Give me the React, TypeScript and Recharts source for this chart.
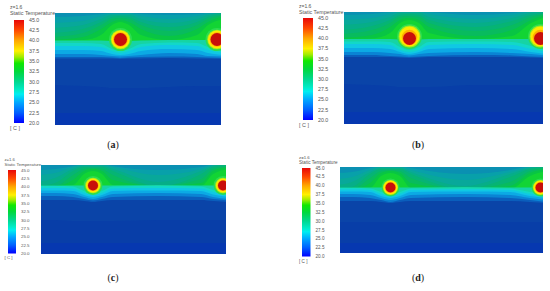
import React from 'react';
import { ComposedChart, Area, Scatter, XAxis, YAxis } from 'recharts';

// Temperature scale
const scaleTicks = [20, 22.5, 25, 27.5, 30, 32.5, 35, 37.5, 40, 42.5, 45];
const scaleEnds = [{ x: 0, top: 45 }, { x: 1, top: 45 }];
const scaleStops: [number, string][] = [
  [20, '#0000ff'], [22.5, '#0060ff'], [25, '#00a8ff'], [27, '#00eef0'], [28, '#00ecc8'], [30, '#00d890'],
  [32.5, '#00d83c'], [34.5, '#10e800'], [36, '#a0ec00'], [37.5, '#fff000'], [40, '#ffa800'], [42.5, '#ff4800'], [45, '#e80808'],
];

// Bands of the field, painted from top to bottom
const bandColors = [
  '#0a90b2', '#08a0aa', '#08a89a', '#06ae88', '#06b474', '#08bb5e', '#08c544', '#12d434',
  '#16d4a4', '#12d8c8', '#10c8e4', '#0caae4', '#0a84d4', '#0a5ebc', '#0a44a8', '#083ea8', '#0638b0',
];
const ringColors = ['#2cdc50', '#a0ec1c', '#ffe800', '#ffb000', '#c80e0a'];

// Depth of each band's upper edge along the section
const xsA = [-3, 28, 46, 57, 65, 74, 86, 114, 142, 153, 169];
const bandsA = [
  [-3, -3, -3, -3, -3, -3, -3, -3, -3, -3, -3],
  [4, 3, 1, 0, 0, 0, 1, 2, 1, 0, 0],
  [10, 8, 3, 1, 1, 1, 3, 6, 3, 1, 0],
  [15, 12, 6, 2, 2, 2, 6, 10, 6, 2, 0],
  [20, 16, 9, 4, 3, 4, 9, 14, 9, 4, 1],
  [24, 20, 12, 6, 5, 6, 12, 18, 12, 6, 2],
  [27, 24, 16, 9, 7, 9, 16, 23, 16, 9, 3],
  [27.5, 27, 22, 12, 9, 12, 22, 27, 22, 12, 6],
  [27.5, 27.5, 27.5, 28, 28, 28, 27.5, 27, 27, 27, 27],
  [30, 30, 31, 36, 38, 36, 31, 29.5, 30, 34, 37],
  [33, 33, 34, 38, 40, 38, 34, 32, 33, 37, 40],
  [37, 37, 38, 41, 42, 41, 38, 36, 37, 40, 42],
  [41, 41, 42, 43, 43.5, 43, 42, 40, 41, 43, 43.5],
  [44, 44, 44, 44.5, 45, 44.5, 44, 43.5, 44, 44.5, 45],
  [45.5, 45.5, 45.5, 45.5, 46, 45.5, 45.5, 45, 45.5, 45.5, 46],
  [72, 73, 74, 75, 75, 75, 75, 74, 73, 73, 73],
  [100, 100, 100, 100, 100, 100, 100, 100, 100, 100, 100],
];
const ringsA = [
  { x: 65.5, y: 26.5, r: [11.5, 9.8, 9, 7.3, 6.5] },
  { x: 162, y: 26.5, r: [11.5, 9.8, 9, 7.3, 6.5] },
];

const xsB = [-3, 28, 46, 56, 65, 75, 85, 131, 168, 187, 202];
const bandsB = [
  [-3, -3, -3, -3, -3, -3, -3, -3, -3, -3, -3],
  [3, 2, 0, -1, -1, -1, 0, 3, 1, -1, -1],
  [8, 6, 2, 0, 0, 0, 2, 7, 3, 0, 0],
  [13, 10, 5, 1, 1, 1, 5, 11, 6, 1, 0],
  [18, 14, 8, 3, 2, 3, 8, 15, 9, 3, 1],
  [22, 18, 11, 5, 4, 5, 11, 19, 13, 5, 2],
  [26, 23, 15, 8, 6, 8, 15, 24, 18, 8, 3],
  [27, 26.5, 21, 11, 8, 11, 21, 27, 24, 11, 5],
  [27, 27, 27, 27.5, 28, 27.5, 27, 27, 27, 27, 27],
  [29.5, 29.5, 30, 35, 38, 35, 30, 29.5, 30, 34, 37],
  [32, 32, 33, 38, 40, 38, 33, 32, 33, 37, 40],
  [36, 36, 37, 40, 42, 40, 37, 36, 37, 40, 42],
  [40, 40, 41, 42, 43.5, 42, 41, 40, 41, 42, 43.5],
  [43, 43, 44, 44.5, 45, 44.5, 44, 43, 43.5, 44.5, 45],
  [45, 45, 45, 45.5, 46, 45.5, 45, 45, 45, 45.5, 46],
  [72, 73, 74, 75, 75, 75, 75, 73, 73, 73, 73],
  [100, 100, 100, 100, 100, 100, 100, 100, 100, 100, 100],
];
const ringsB = [
  { x: 65.5, y: 24.5, r: [12.5, 11, 10, 7.8, 6.5], lift: [0, 0, 0, 1, 2] },
  { x: 196.5, y: 24.5, r: [12.5, 11, 10, 7.8, 6.5], lift: [0, 0, 0, 1, 2] },
];

const xsC = [-3, 14, 32, 43, 52, 61, 72, 117, 160, 172, 188];
const bandsC = [
  [-3, -3, -3, -3, -3, -3, -3, -3, -3, -3, -3],
  [5, 4, 1, -1, -1, -1, 1, 5, 2, -1, -3],
  [10, 8, 2, 0, 0, 0, 2, 10, 4, 0, -3],
  [17, 13, 4, 1, 1, 1, 4, 17, 6, 1, -1],
  [21, 18, 6, 2, 2, 2, 6, 21, 9, 2, 0],
  [21, 21, 10, 4, 3, 4, 10, 21, 14, 4, 1],
  [21, 21, 15, 6, 4, 6, 15, 21, 18, 6, 2],
  [21, 21, 20, 9, 6, 9, 20, 21, 21, 9, 4],
  [20.5, 20.5, 20.5, 20.5, 20.5, 20.5, 20.5, 20, 20.5, 20.5, 20.5],
  [21, 21, 21.5, 26, 28, 26, 21.5, 21, 21.5, 25, 28],
  [23, 23, 23.5, 28, 30, 28, 23.5, 23, 23.5, 27, 30],
  [25.5, 25.5, 26, 30, 32, 30, 26, 25.5, 26, 29.5, 32],
  [28, 28, 29, 32, 34, 32, 29, 28, 29, 32, 34],
  [31, 31, 32, 34, 35.5, 34, 32, 31, 32, 34, 35.5],
  [35, 35, 35, 36, 37, 36, 35, 35, 35, 36, 37],
  [55, 55, 56, 56, 56, 56, 56, 55, 55, 55, 55],
  [78, 78, 78, 78, 78, 78, 78, 78, 78, 78, 78],
];
const ringsC = [
  { x: 52, y: 20.5, r: [9.5, 7.8, 7, 5.6, 5] },
  { x: 182, y: 20.5, r: [9.5, 7.8, 7, 5.6, 5] },
];

const xsD = [-3, 12, 30, 41, 50.5, 60, 71, 125, 170, 190, 206];
const bandsD = [
  [-3, -3, -3, -3, -3, -3, -3, -3, -3, -3, -3],
  [6, 5, 1, -1, -1, -1, 1, 7, 3, -1, -3],
  [12, 10, 3, 0, 0, 0, 3, 13, 5, 0, -3],
  [18, 15, 5, 1, 1, 1, 5, 19, 7, 1, -1],
  [22, 20, 7, 2, 2, 2, 7, 22, 10, 2, 0],
  [22, 22, 11, 4, 3, 4, 11, 22, 15, 4, 1],
  [22, 22, 16, 6, 4, 6, 16, 22, 19, 6, 2],
  [22, 22, 21, 9, 6, 9, 21, 22, 22, 9, 4],
  [20.5, 20.5, 20.5, 20.5, 20.5, 20.5, 20.5, 20, 20.5, 20.5, 20.5],
  [21, 21, 21.5, 25, 27, 25, 21.5, 21.5, 21.5, 25, 27],
  [22.5, 22.5, 23, 27, 29, 27, 23, 22.5, 23, 27, 29],
  [24.5, 24.5, 25, 29, 31, 29, 25, 24.5, 25, 29, 31],
  [27, 27, 28, 31, 33, 31, 28, 27, 28, 31, 33],
  [30, 30, 31, 33, 35, 33, 31, 30, 31, 33, 35],
  [34, 34, 34, 35, 36, 35, 34, 34, 34, 35, 36],
  [55, 55, 55, 55, 55, 55, 55, 55, 55, 55, 55],
  [76, 76, 76, 76, 76, 76, 76, 76, 76, 76, 76],
];
const ringsD = [
  { x: 50.5, y: 20.5, r: [9, 7.6, 7, 5.6, 5] },
  { x: 200.5, y: 20.5, r: [9, 7.6, 7, 5.6, 5] },
];

type RingSet = { x: number; y: number; r: number[]; lift?: number[] };

const toRows = (xs: number[], bands: number[][]) =>
  xs.map((x, i) => {
    const row: Record<string, number> = { x };
    bands.forEach((b, k) => { row['d' + k] = b[i]; });
    return row;
  });

const toRingPoints = (rings: RingSet[]) =>
  rings.flatMap((s) => s.r.map((r, k) => ({ x: s.x, y: s.y + (s.lift ? s.lift[k] : 0), r, level: k })));

const Field = ({ left, top, w, h, xs, bands, rings }: any) => {
  const pad = 3;
  return (
    <div style={{ position: 'absolute', left, top, width: w, height: h, overflow: 'hidden' }}>
      <div style={{ position: 'absolute', left: -pad, top: -pad, filter: 'blur(0.7px)' }}>
        <ComposedChart width={w + 2 * pad} height={h + 2 * pad} data={toRows(xs, bands)} margin={{ top: 0, right: 0, bottom: 0, left: 0 }}>
          <XAxis dataKey="x" type="number" domain={[-pad, w + pad]} hide allowDataOverflow />
          <YAxis type="number" domain={[-pad, h + pad]} reversed hide allowDataOverflow width={0} />
          {bands.map((_: number[], k: number) => (
            <Area
              key={k}
              dataKey={'d' + k}
              type="monotone"
              baseValue={h + pad}
              fill={bandColors[k]}
              fillOpacity={1}
              stroke="none"
              dot={false}
              activeDot={false}
              isAnimationActive={false}
            />
          ))}
          <Scatter
            data={toRingPoints(rings)}
            dataKey="y"
            isAnimationActive={false}
            shape={(p: any) => <circle cx={p.cx} cy={p.cy} r={p.payload.r} fill={ringColors[p.payload.level]} />}
          />
        </ComposedChart>
      </div>
    </div>
  );
};

const ColorBar = ({ left, top, w, h, fs, id }: any) => {
  const pad = 5;
  const axisW = 26;
  return (
    <div style={{ position: 'absolute', left, top: top - pad }}>
      <ComposedChart width={w + axisW} height={h + 2 * pad} data={scaleEnds} margin={{ top: pad, right: 0, bottom: pad, left: 0 }}>
        <defs>
          <linearGradient id={id} x1="0" y1="1" x2="0" y2="0">
            {scaleStops.map(([t, c]) => (
              <stop key={t} offset={(t - 20) / 25} stopColor={c} />
            ))}
          </linearGradient>
        </defs>
        <XAxis dataKey="x" type="number" domain={[0, 1]} hide />
        <YAxis
          orientation="right"
          type="number"
          domain={[20, 45]}
          ticks={scaleTicks}
          interval={0}
          width={axisW}
          axisLine={false}
          tickLine={false}
          tickSize={0}
          tickMargin={5}
          tick={{ fontSize: fs, fill: '#555', fontFamily: '"Liberation Sans", Arial, sans-serif' }}
          tickFormatter={(v: number) => v.toFixed(1)}
        />
        <Area
          dataKey="top"
          type="linear"
          baseValue={20}
          fill={`url(#${id})`}
          fillOpacity={1}
          stroke="none"
          dot={false}
          activeDot={false}
          isAnimationActive={false}
        />
      </ComposedChart>
    </div>
  );
};

const txt = (left: number, top: number, fs: number, s: string) => (
  <div
    style={{
      position: 'absolute', left, top, fontSize: fs, lineHeight: '1', color: '#555', whiteSpace: 'pre',
      fontFamily: '"Liberation Sans", Arial, sans-serif',
    }}
  >
    {s}
  </div>
);

const Caption = ({ cx, y, letter }: any) => (
  <div
    style={{
      position: 'absolute', left: cx - 20, width: 40, top: y, textAlign: 'center', fontSize: 10, lineHeight: '1',
      fontFamily: '"Liberation Serif", serif', color: '#222',
    }}
  >
    (<b>{letter}</b>)
  </div>
);

export default function App() {
  return (
    <div style={{ position: 'fixed', left: 0, top: 0, width: 550, height: 291, background: '#fff', overflow: 'hidden' }}>
      {txt(10, 5, 5, 'z=1.6')}
      {txt(10, 11, 5.4, 'Static Temperature')}
      <ColorBar left={14} top={19.5} w={10} h={103} fs={5.3} id="ga" />
      {txt(10, 126, 5.4, '[ C ]')}
      <Field left={55} top={13} w={165.5} h={111.5} xs={xsA} bands={bandsA} rings={ringsA} />
      <Caption cx={113} y={140} letter="a" />

      {txt(299, 4, 5, 'z=1.6')}
      {txt(299, 10, 5.3, 'Static Temperature')}
      <ColorBar left={303} top={18} w={10} h={102} fs={5.3} id="gb" />
      {txt(299, 123, 5.4, '[ C ]')}
      <Field left={343.5} top={12} w={199} h={112} xs={xsB} bands={bandsB} rings={ringsB} />
      <Caption cx={418} y={140} letter="b" />

      {txt(4.5, 158, 4.2, 'z=1.6')}
      {txt(4.5, 163, 4.4, 'Static Temperature')}
      <ColorBar left={8} top={169.5} w={8} h={83.5} fs={4.4} id="gc" />
      {txt(4.5, 256, 4.4, '[ C ]')}
      <Field left={41} top={164.5} w={184.5} h={89} xs={xsC} bands={bandsC} rings={ringsC} />
      <Caption cx={113} y={273} letter="c" />

      {txt(299, 156, 4.3, 'z=1.6')}
      {txt(299, 161, 4.6, 'Static Temperature')}
      <ColorBar left={302} top={168} w={8.5} h={88.5} fs={4.6} id="gd" />
      {txt(299, 260, 4.6, '[ C ]')}
      <Field left={339.5} top={167} w={203} h={86} xs={xsD} bands={bandsD} rings={ringsD} />
      <Caption cx={418} y={273} letter="d" />
    </div>
  );
}
